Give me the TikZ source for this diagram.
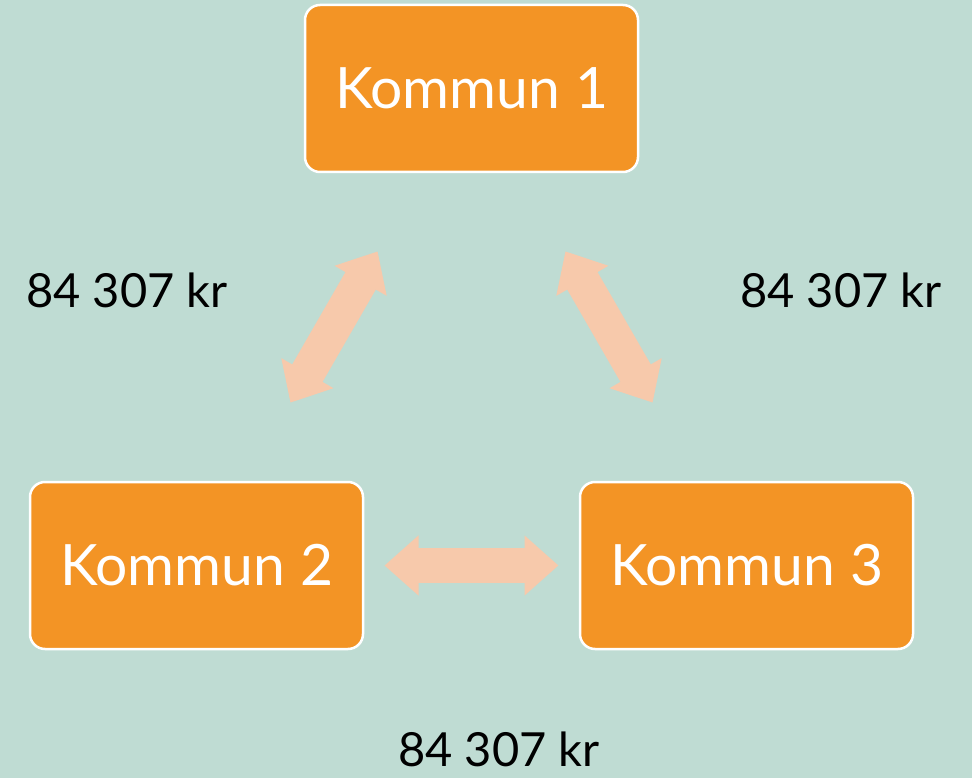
\documentclass[tikz,border=0pt]{standalone}
\usepackage{fontspec}
\setmainfont{Lato}
\usepackage{tikz}
\usetikzlibrary{positioning}
\usetikzlibrary{arrows.meta}
\definecolor{bgteal}{HTML}{BFDCD3}
\definecolor{kommunorange}{HTML}{F39425}
\definecolor{peach}{HTML}{F7C9AB}
\tikzset{
	kommun/.style={draw=white,line width=2.5pt,fill=kommunorange,rounded corners=15pt,
		minimum width=333pt,minimum height=167pt,text=white,font=\fontsize{57}{60}\selectfont},
	belopp/.style={text=black,inner sep=0pt,font=\fontsize{47}{50}\selectfont},
	flow/.style={draw=peach,line width=35pt,
		{Triangle[length=34pt,width=58pt]}-{Triangle[length=34pt,width=58pt]},
		shorten <=188pt,shorten >=188pt},
}

\begin{document}
\begin{tikzpicture}[x=1pt,y=-1pt]
	%% bakgrund
	\fill[bgteal] (0,0) rectangle (972,778);
	\useasboundingbox (0,0) rectangle (972,778);
	%% kommuner
	\node[kommun] (k1) at (471.5,88.5) {Kommun 1};
	\node[kommun] (k2) at (196.5,565.5) {Kommun 2};
	\node[kommun] (k3) at (746.5,565.5) {Kommun 3};
	% pilar mellan kommunerna
	\draw[flow] (k2.center) -- (k1.center);
	\draw[flow] (k1.center) -- (k3.center);
	\draw[flow] (k2.center) -- (k3.center);
	% belopp
	\node[belopp] (b12) at (127,290) {84 307 kr};
	\node[belopp] (b13) at (841,290) {84 307 kr};
	\node[belopp] (b23) at (499,749) {84 307 kr};
\end{tikzpicture}
\end{document}
